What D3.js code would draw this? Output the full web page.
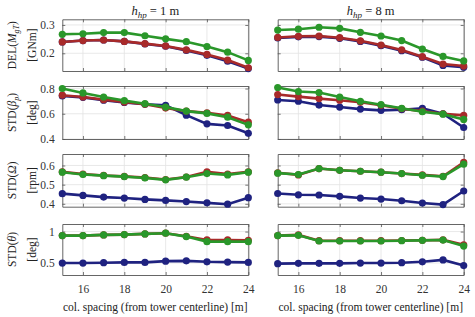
<!DOCTYPE html>
<html>
<head>
<meta charset="utf-8">
<script src="https://cdn.jsdelivr.net/npm/d3@7"></script>
<style>
body { margin:0; background:#fff; }
text { font-family: "Liberation Serif", "DejaVu Serif", serif; }
</style>
</head>
<body>
<div id="chart-area"></div>
<script>
const spacing = [15,16,17,18,19,20,21,22,23,24]
const xTicks = [16,18,20,22,24]

// DEL(M_gT) [GNm]
const delBlue1  = [0.240,0.245,0.247,0.242,0.233,0.225,0.210,0.193,0.172,0.146]
const delRed1   = [0.240,0.245,0.247,0.242,0.234,0.226,0.212,0.196,0.176,0.149]
const delGreen1 = [0.267,0.269,0.273,0.273,0.262,0.251,0.241,0.224,0.204,0.175]
const delBlue8  = [0.254,0.258,0.259,0.253,0.242,0.227,0.209,0.186,0.157,0.151]
const delRed8   = [0.256,0.260,0.261,0.255,0.244,0.229,0.212,0.188,0.162,0.155]
const delGreen8 = [0.282,0.285,0.292,0.288,0.274,0.261,0.245,0.215,0.189,0.173]

// STD(beta_p) [deg]
const betaBlue1  = [0.741,0.730,0.707,0.690,0.675,0.667,0.589,0.520,0.507,0.445]
const betaRed1   = [0.747,0.733,0.712,0.693,0.675,0.645,0.621,0.608,0.587,0.533]
const betaGreen1 = [0.800,0.765,0.733,0.704,0.680,0.653,0.621,0.603,0.573,0.512]
const betaBlue8  = [0.709,0.699,0.669,0.653,0.637,0.627,0.632,0.643,0.600,0.491]
const betaRed8   = [0.752,0.736,0.720,0.707,0.691,0.667,0.640,0.621,0.600,0.587]
const betaGreen8 = [0.808,0.776,0.768,0.733,0.699,0.672,0.643,0.616,0.597,0.555]

// STD(Omega) [rpm]
const omBlue1  = [0.453,0.444,0.435,0.430,0.423,0.418,0.412,0.405,0.398,0.432]
const omRed1   = [0.567,0.555,0.548,0.543,0.537,0.527,0.540,0.567,0.555,0.567]
const omGreen1 = [0.565,0.553,0.547,0.542,0.535,0.525,0.539,0.558,0.551,0.565]
const omBlue8  = [0.454,0.447,0.446,0.439,0.430,0.425,0.416,0.404,0.396,0.467]
const omRed8   = [0.562,0.551,0.584,0.575,0.570,0.565,0.558,0.551,0.544,0.616]
const omGreen8 = [0.560,0.553,0.584,0.575,0.570,0.565,0.558,0.549,0.542,0.607]

// STD(theta) [deg]
const thBlue1  = [0.500,0.500,0.505,0.510,0.510,0.530,0.535,0.520,0.515,0.510]
const thRed1   = [0.936,0.936,0.947,0.952,0.963,0.974,0.925,0.867,0.867,0.860]
const thGreen1 = [0.936,0.936,0.947,0.952,0.963,0.974,0.920,0.840,0.840,0.840]
const thBlue8  = [0.490,0.495,0.495,0.495,0.500,0.500,0.505,0.520,0.550,0.460]
const thRed8   = [0.936,0.947,0.855,0.855,0.855,0.855,0.858,0.862,0.868,0.790]
const thGreen8 = [0.936,0.940,0.850,0.850,0.850,0.850,0.855,0.860,0.865,0.770]

const titles = ["1", "8"]
const COLORS = ["#1f2280", "#a82a2a", "#2a972a"]
const FONT = "Liberation Serif"

const rows = [
  {lab1:"DEL(", sym:"M", sub:"gT", lab2:"[GNm]", dom:[0.1375,0.32], ticks:[0.2,0.3], fmt:d3.format(".1f"),
   top:19.3, bot:71, series:[[delBlue1,delRed1,delGreen1],[delBlue8,delRed8,delGreen8]]},
  {lab1:"STD(", sym:"β", sub:"p", lab2:"[deg]", dom:[0.4,0.82], ticks:[0.4,0.6,0.8], fmt:d3.format(".1f"),
   top:86, bot:139, series:[[betaBlue1,betaRed1,betaGreen1],[betaBlue8,betaRed8,betaGreen8]]},
  {lab1:"STD(", sym:"Ω", sub:"", lab2:"[rpm]", dom:[0.385,0.66], ticks:[0.4,0.5,0.6], fmt:d3.format(".1f"),
   top:154, bot:206.7, series:[[omBlue1,omRed1,omGreen1],[omBlue8,omRed8,omGreen8]]},
  {lab1:"STD(", sym:"θ", sub:"", lab2:"[deg]", dom:[0.31,1.12], ticks:[0.5,1], fmt:d => d===1 ? "1" : d3.format(".1f")(d),
   top:224, bot:275, series:[[thBlue1,thRed1,thGreen1],[thBlue8,thRed8,thGreen8]]}
]
const cols = [{left:62.3, right:248.3}, {left:277.7, right:463.7}]

const svg = d3.select("#chart-area").append("svg")
  .attr("width", 475).attr("height", 317)

// column titles
cols.forEach((c, ci) => {
  const t = svg.append("text")
    .attr("x", (c.left + c.right) / 2).attr("y", 15)
    .attr("text-anchor", "middle").attr("font-size", 12.5).attr("fill", "#222")
  t.append("tspan").attr("font-style", "italic").text("h")
  t.append("tspan").attr("font-style", "italic").attr("font-size", 9).attr("dy", 3).text("hp")
  t.append("tspan").attr("dy", -3).text(" = " + titles[ci] + " m")
})

rows.forEach(r => {
  const y = d3.scaleLinear().domain(r.dom).range([r.bot, r.top])
  cols.forEach((c, ci) => {
    const x = d3.scaleLinear().domain([15, 24]).range([c.left, c.right])
    const g = svg.append("g")
    // grid
    g.selectAll(".gx").data(xTicks).enter().append("line")
      .attr("x1", d => x(d)).attr("x2", d => x(d))
      .attr("y1", r.top).attr("y2", r.bot)
      .attr("stroke", "#e3e3e3").attr("stroke-width", 0.8)
    g.selectAll(".gy").data(r.ticks).enter().append("line")
      .attr("x1", c.left).attr("x2", c.right)
      .attr("y1", d => y(d)).attr("y2", d => y(d))
      .attr("stroke", "#e3e3e3").attr("stroke-width", 0.8)

    // axes with inward ticks
    const axB = g.append("g").attr("transform", `translate(0,${r.bot})`)
      .call(d3.axisBottom(x).tickValues(xTicks).tickSizeInner(-3).tickSizeOuter(0).tickFormat(r === rows[3] ? d3.format("d") : ""))
    const axT = g.append("g").attr("transform", `translate(0,${r.top})`)
      .call(d3.axisTop(x).tickValues(xTicks).tickSizeInner(-3).tickSizeOuter(0).tickFormat(""))
    const axL = g.append("g").attr("transform", `translate(${c.left},0)`)
      .call(d3.axisLeft(y).tickValues(r.ticks).tickSizeInner(-3).tickSizeOuter(0).tickFormat(ci === 0 ? r.fmt : ""))
    const axR = g.append("g").attr("transform", `translate(${c.right},0)`)
      .call(d3.axisRight(y).tickValues(r.ticks).tickSizeInner(-3).tickSizeOuter(0).tickFormat(""))
    ;[axB, axT, axL, axR].forEach(a => {
      a.select(".domain").attr("stroke", "#555").attr("stroke-width", 0.9)
      a.selectAll(".tick line").attr("stroke", "#555").attr("stroke-width", 0.8)
      a.selectAll("text").attr("font-family", FONT).attr("font-size", 11.5).attr("fill", "#333")
    })
    axB.selectAll("text").attr("dy", "1.3em")
    axL.selectAll("text").attr("dx", "-0.4em")

    // series
    const line = d3.line().x((d, i) => x(spacing[i])).y(d => y(d))
    r.series[ci].forEach((vals, si) => {
      g.append("path").datum(vals)
        .attr("d", line).attr("fill", "none")
        .attr("stroke", COLORS[si]).attr("stroke-width", 2.6)
      g.selectAll(".dot" + si).data(vals).enter().append("circle")
        .attr("cx", (d, i) => x(spacing[i])).attr("cy", d => y(d))
        .attr("r", 3.6).attr("fill", COLORS[si])
    })
  })

  // y labels
  const cy = (r.top + r.bot) / 2
  const t1 = svg.append("text")
    .attr("transform", `translate(16,${cy}) rotate(-90)`)
    .attr("text-anchor", "middle").attr("font-size", 11.5).attr("fill", "#222")
  t1.append("tspan").text(r.lab1)
  t1.append("tspan").attr("font-style", "italic").text(r.sym)
  if (r.sub) t1.append("tspan").attr("font-style", "italic").attr("font-size", 8).attr("dy", 2.5).text(r.sub)
  t1.append("tspan").attr("dy", r.sub ? -2.5 : 0).text(")")
  svg.append("text")
    .attr("transform", `translate(36,${cy}) rotate(-90)`)
    .attr("text-anchor", "middle").attr("font-size", 11.5).attr("fill", "#222")
    .text(r.lab2)
})

cols.forEach(c => {
  svg.append("text")
    .attr("x", (c.left + c.right) / 2).attr("y", 311)
    .attr("text-anchor", "middle").attr("font-size", 11.5).attr("fill", "#222")
    .text("col. spacing (from tower centerline) [m]")
})
</script>
</body>
</html>
